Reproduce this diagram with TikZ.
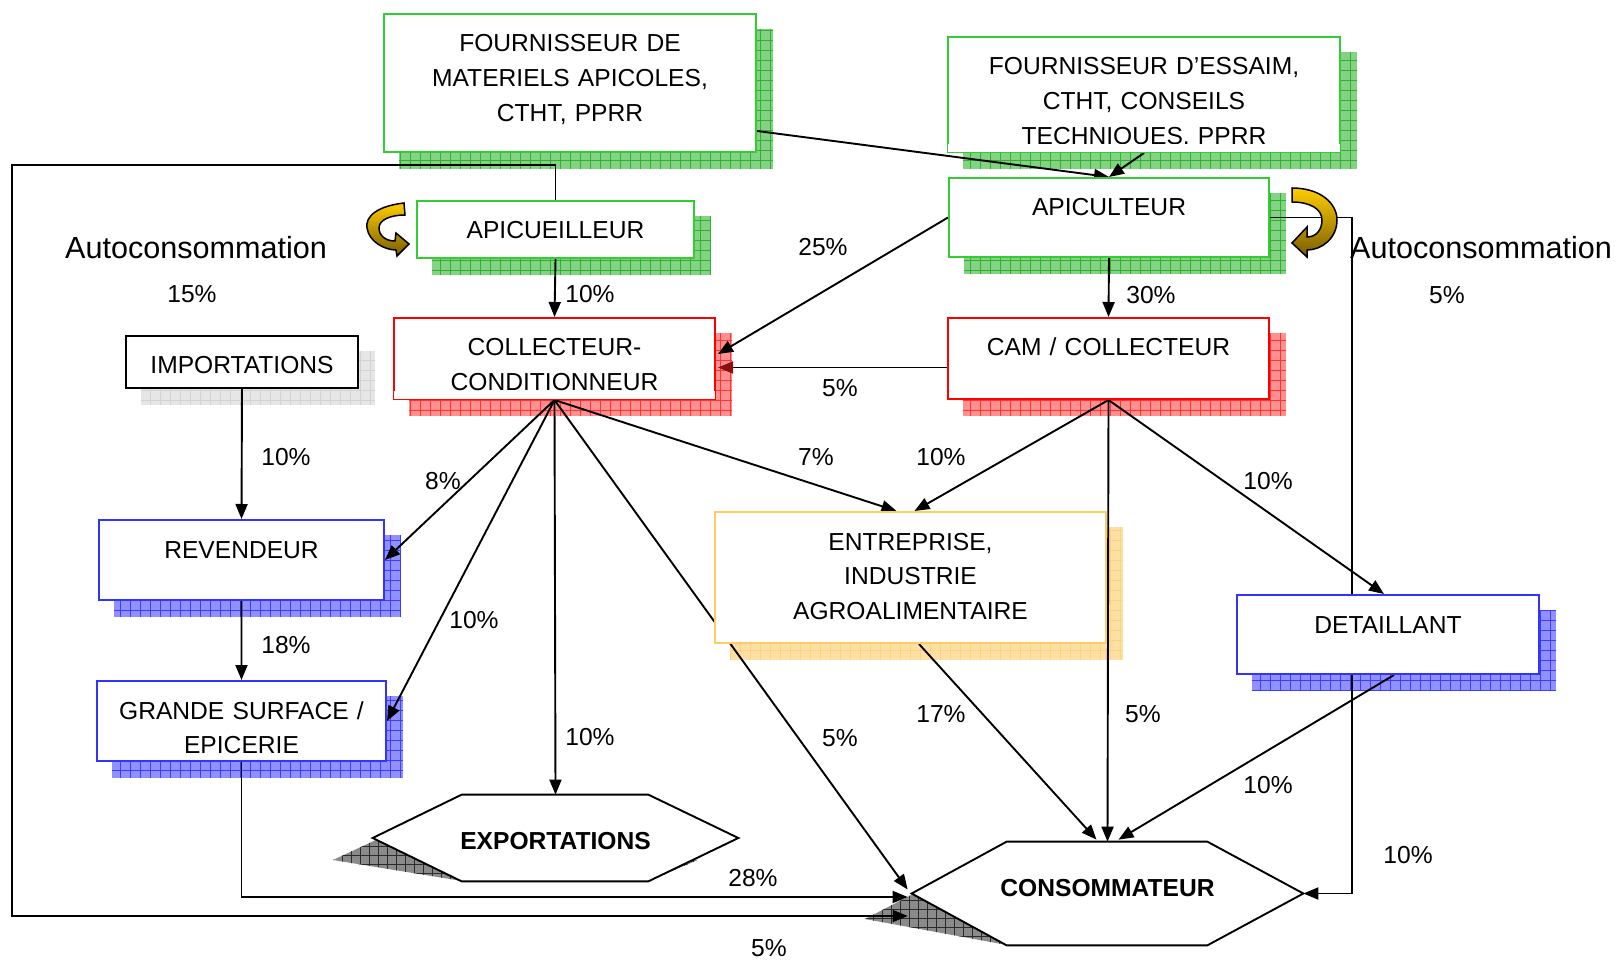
\documentclass[tikz,border=0pt]{standalone}
\usepackage{fontspec}
\setmainfont{Liberation Sans}
\usepackage{xcolor}
\definecolor{boxgreen}{HTML}{33CC33}
\definecolor{shgreen}{HTML}{84D284}
\definecolor{shgreenline}{HTML}{2FB12F}
\definecolor{boxred}{HTML}{FF0000}
\definecolor{shred}{HTML}{FF9090}
\definecolor{shredline}{HTML}{FF3333}
\definecolor{boxblue}{HTML}{3333FF}
\definecolor{shblue}{HTML}{9090FF}
\definecolor{shblueline}{HTML}{3D3DFF}
\definecolor{boxorange}{HTML}{FFCC66}
\definecolor{shorange}{HTML}{FFE0A4}
\definecolor{shorangeline}{HTML}{FFD27F}
\definecolor{shgray}{HTML}{E6E6E6}
\definecolor{shgrayline}{HTML}{D2D2D2}
\definecolor{hexshade}{HTML}{8A8A8A}
\definecolor{hexshadeline}{HTML}{2B2B2B}
\definecolor{curlyellow}{HTML}{FFCC00}
\definecolor{curlbrown}{HTML}{7A5C00}
\definecolor{arrowred}{HTML}{8B1010}
\usepackage{tikz}
\usetikzlibrary{arrows.meta,calc}
\pgfdeclarelayer{background}
\pgfdeclarelayer{lines}
\pgfsetlayers{background,lines,main}

\newcommand{\boxshadow}[3]{%
  \fill[#2] ($(#1.north west)+(16,16)$) rectangle ($(#1.south east)+(16,16)$);
  \begin{scope}
    \clip ($(#1.north west)+(16,16)$) rectangle ($(#1.south east)+(16,16)$);
    \draw[#3,line width=0.15mm,step=2mm] ($(#1.north west)+(16,16)$) grid ($(#1.south east)+(16,16)$);
  \end{scope}}

\begin{document}
\begin{tikzpicture}[
  x=0.2mm,y=-0.2mm,
  box/.style={draw=#1,line width=0.4mm,fill=white,anchor=north west,inner sep=0pt,align=center,text height=7.6mm,font=\fontsize{14}{19.9}\selectfont},
  hexnode/.style={inner sep=0pt,font=\bfseries\fontsize{14}{17}\selectfont},
  hexline/.style={draw=black,line width=0.38mm,fill=white},
  arrow/.style={-{Triangle[length=3mm,width=2.4mm]},line width=0.38mm},
  pct/.style={inner sep=0pt,font=\fontsize{14}{17}\selectfont},
  autoc/.style={inner sep=0pt,font=\fontsize{17.4}{20}\selectfont},
  curl/.style={draw=black,line width=0.3mm,top color=curlyellow,bottom color=curlbrown}
]
\useasboundingbox (0,0) rectangle (1621,960);

\node[box=boxgreen,text width=74.4mm,text depth=20mm] (fmat) at (383,13) {FOURNISSEUR DE\\MATERIELS APICOLES,\\CTHT, PPRR};
\node[box=boxgreen,text width=78.4mm,text depth=15.4mm] (fess) at (947,36) {FOURNISSEUR D’ESSAIM,\\CTHT, CONSEILS\\TECHNIQUES, PPRR};
\node[box=boxgreen,text width=55.4mm,text depth=3.8mm] (apicue) at (416,200) {APICUEILLEUR};
\node[box=boxgreen,text width=64mm,text depth=8.2mm] (apicul) at (948,177) {APICULTEUR};
\node[box=boxred,text width=64.2mm,text depth=8.6mm] (colcond) at (393,317) {COLLECTEUR-\\CONDITIONNEUR};
\node[box=boxred,text width=64.2mm,text depth=8.6mm] (cam) at (947,317) {CAM / COLLECTEUR};
\node[box=black,text width=46.4mm,text depth=2.8mm] (import) at (125,335) {IMPORTATIONS};
\node[box=boxblue,text width=57mm,text depth=8.4mm] (reven) at (98,519) {REVENDEUR};
\node[box=boxblue,text width=57.8mm,text depth=8.4mm] (gsurf) at (96,680) {GRANDE SURFACE /\\EPICERIE};
\node[box=boxorange,text width=78.2mm,text depth=18.6mm] (entrep) at (714,511) {ENTREPRISE,\\INDUSTRIE\\AGROALIMENTAIRE};
\node[box=boxblue,text width=60.4mm,text depth=8.2mm] (detail) at (1236,594) {DETAILLANT};
\node[hexnode,minimum width=73mm,minimum height=17.2mm,text height=10.8mm,text depth=6.4mm] (export) at (555.5,838) {EXPORTATIONS};
\node[hexnode,minimum width=78.2mm,minimum height=20.6mm,text height=10.8mm,text depth=9.8mm] (conso) at (1107.5,893.5) {CONSOMMATEUR};

\coordinate (cin0) at ($(conso.west)+(-4,-4)$);
\coordinate (cin1) at ($(conso.west)+(-4,3.5)$);
\coordinate (cin2) at ($(conso.west)+(-4,22.5)$);

\begin{pgfonlayer}{background}
\boxshadow{fmat}{shgreen}{shgreenline}
\boxshadow{fess}{shgreen}{shgreenline}
\boxshadow{apicue}{shgreen}{shgreenline}
\boxshadow{apicul}{shgreen}{shgreenline}
\boxshadow{colcond}{shred}{shredline}
\boxshadow{cam}{shred}{shredline}
\boxshadow{import}{shgray}{shgrayline}
\boxshadow{reven}{shblue}{shblueline}
\boxshadow{gsurf}{shblue}{shblueline}
\boxshadow{entrep}{shorange}{shorangeline}
\boxshadow{detail}{shblue}{shblueline}
\begin{scope}
  \clip (333,860) -- (380,838) -- (566,838) -- (698,860) -- (648,881) -- (462,881) -- cycle;
  \fill[hexshade] (300,830) rectangle (750,890);
  \draw[hexshadeline,line width=0.15mm,step=1.8mm] (300,830) grid (750,890);
\end{scope}
\begin{scope}
  \clip (865,919) -- (914,893.5) -- (1114,893.5) -- (1256,919) -- (1207,945) -- (1007,945) -- cycle;
  \fill[hexshade] (850,885) rectangle (1270,950);
  \draw[hexshadeline,line width=0.15mm,step=1.8mm] (850,885) grid (1270,950);
\end{scope}
\draw[hexline] (export.west) -- ($(export.north west)+(89,0)$) -- ($(export.north east)+(-90,0)$) -- (export.east) -- ($(export.south east)+(-90,0)$) -- ($(export.south west)+(89,0)$) -- cycle;
\draw[hexline] (conso.west) -- ($(conso.north west)+(95,0)$) -- ($(conso.north east)+(-96,0)$) -- (conso.east) -- ($(conso.south east)+(-96,0)$) -- ($(conso.south west)+(95,0)$) -- cycle;
\end{pgfonlayer}

\begin{pgfonlayer}{lines}
\draw[arrow] ($(fmat.south east)+(0,-22)$) -- (apicul.north);
\draw[arrow] (fess.south) -- (apicul.north);
\draw[arrow] (apicue.north) |- (12,165) |- (cin2);
\draw[arrow] (apicue.south) -- (colcond.north);
\draw[arrow] (apicul.south) -- (cam.north);
\draw[arrow] (apicul.west) -- ($(colcond.east)+(2,-4.5)$);
\draw[-{Triangle[length=3mm,width=2.4mm,color=arrowred]},line width=0.38mm] ($(cam.west)+(0,9)$) -- ($(colcond.east)+(2,9)$);
\draw[arrow] (import.south) -- (reven.north);
\draw[arrow] (reven.south) -- (gsurf.north);
\draw[arrow] (colcond.south) -- (reven.east);
\draw[arrow] (colcond.south) -- (gsurf.east);
\draw[arrow] (colcond.south) -- (export.north);
\draw[arrow] (colcond.south) -- (cin0);
\draw[arrow] (colcond.south) -- ($(entrep.north)+(-14,0)$);
\draw[arrow] (cam.south) -- ($(entrep.north)+(4,0)$);
\draw[arrow] (cam.south) -- ($(detail.north)+(-4,0)$);
\draw[arrow] (cam.south) -- (conso.north);
\draw[arrow] ($(entrep.south)+(8.5,0)$) -- ($(conso.north)+(-11,-2)$);
\draw[arrow] ($(detail.south)+(6,0)$) -- ($(conso.north)+(11,-2)$);
\draw[arrow] (apicul.east) -| ($(conso.east)+(49,0)$) -- (conso.east);
\draw[arrow] (gsurf.south) |- (cin1);
\end{pgfonlayer}

\fill[white] ($(fess.south west)+(1.2,-8.7)$) rectangle ($(fess.south east)+(-1.2,-1.2)$);
\fill[white] ($(colcond.south west)+(1.2,-9)$) rectangle ($(colcond.south east)+(-1.2,-1.2)$);

\draw[curl] (404,203) .. controls (378,206) and (365,216) .. (367,228) .. controls (369,242) and (385,250) .. (396,250) -- (397,256) -- (409,244) -- (396,233) -- (395,241) .. controls (386,241) and (379,236) .. (379,228) .. controls (379,220) and (390,215) .. (405,215) -- cycle;
\draw[curl] (1292,188) .. controls (1320,188) and (1337,203) .. (1337,220) .. controls (1337,238) and (1322,250) .. (1307,250) -- (1307,257) -- (1292,243) -- (1307,227) -- (1307,237) .. controls (1316,237) and (1322,230) .. (1322,220) .. controls (1322,209) and (1310,202) .. (1292,202) -- cycle;

\node[autoc] (autol) at (196,248) {Autoconsommation};
\node[pct] (autolp) at (192,294) {15\%};
\node[autoc] (autor) at (1481,248) {Autoconsommation};
\node[pct] (autorp) at (1447,295) {5\%};
\node[pct] (p1) at (590,294) {10\%};
\node[pct] (p2) at (823,247) {25\%};
\node[pct] (p3) at (1151,295) {30\%};
\node[pct] (p4) at (840,388) {5\%};
\node[pct] (p5) at (286,457) {10\%};
\node[pct] (p6) at (443,481) {8\%};
\node[pct] (p7) at (816,457) {7\%};
\node[pct] (p8) at (941,457) {10\%};
\node[pct] (p9) at (1268,481) {10\%};
\node[pct] (p10) at (474,620) {10\%};
\node[pct] (p11) at (286,645) {18\%};
\node[pct] (p12) at (941,714) {17\%};
\node[pct] (p13) at (1143,714) {5\%};
\node[pct] (p14) at (590,737) {10\%};
\node[pct] (p15) at (840,738) {5\%};
\node[pct] (p16) at (1268,785) {10\%};
\node[pct] (p17) at (1408,855) {10\%};
\node[pct] (p18) at (753,878) {28\%};
\node[pct] (p19) at (769,948) {5\%};
\end{tikzpicture}
\end{document}
